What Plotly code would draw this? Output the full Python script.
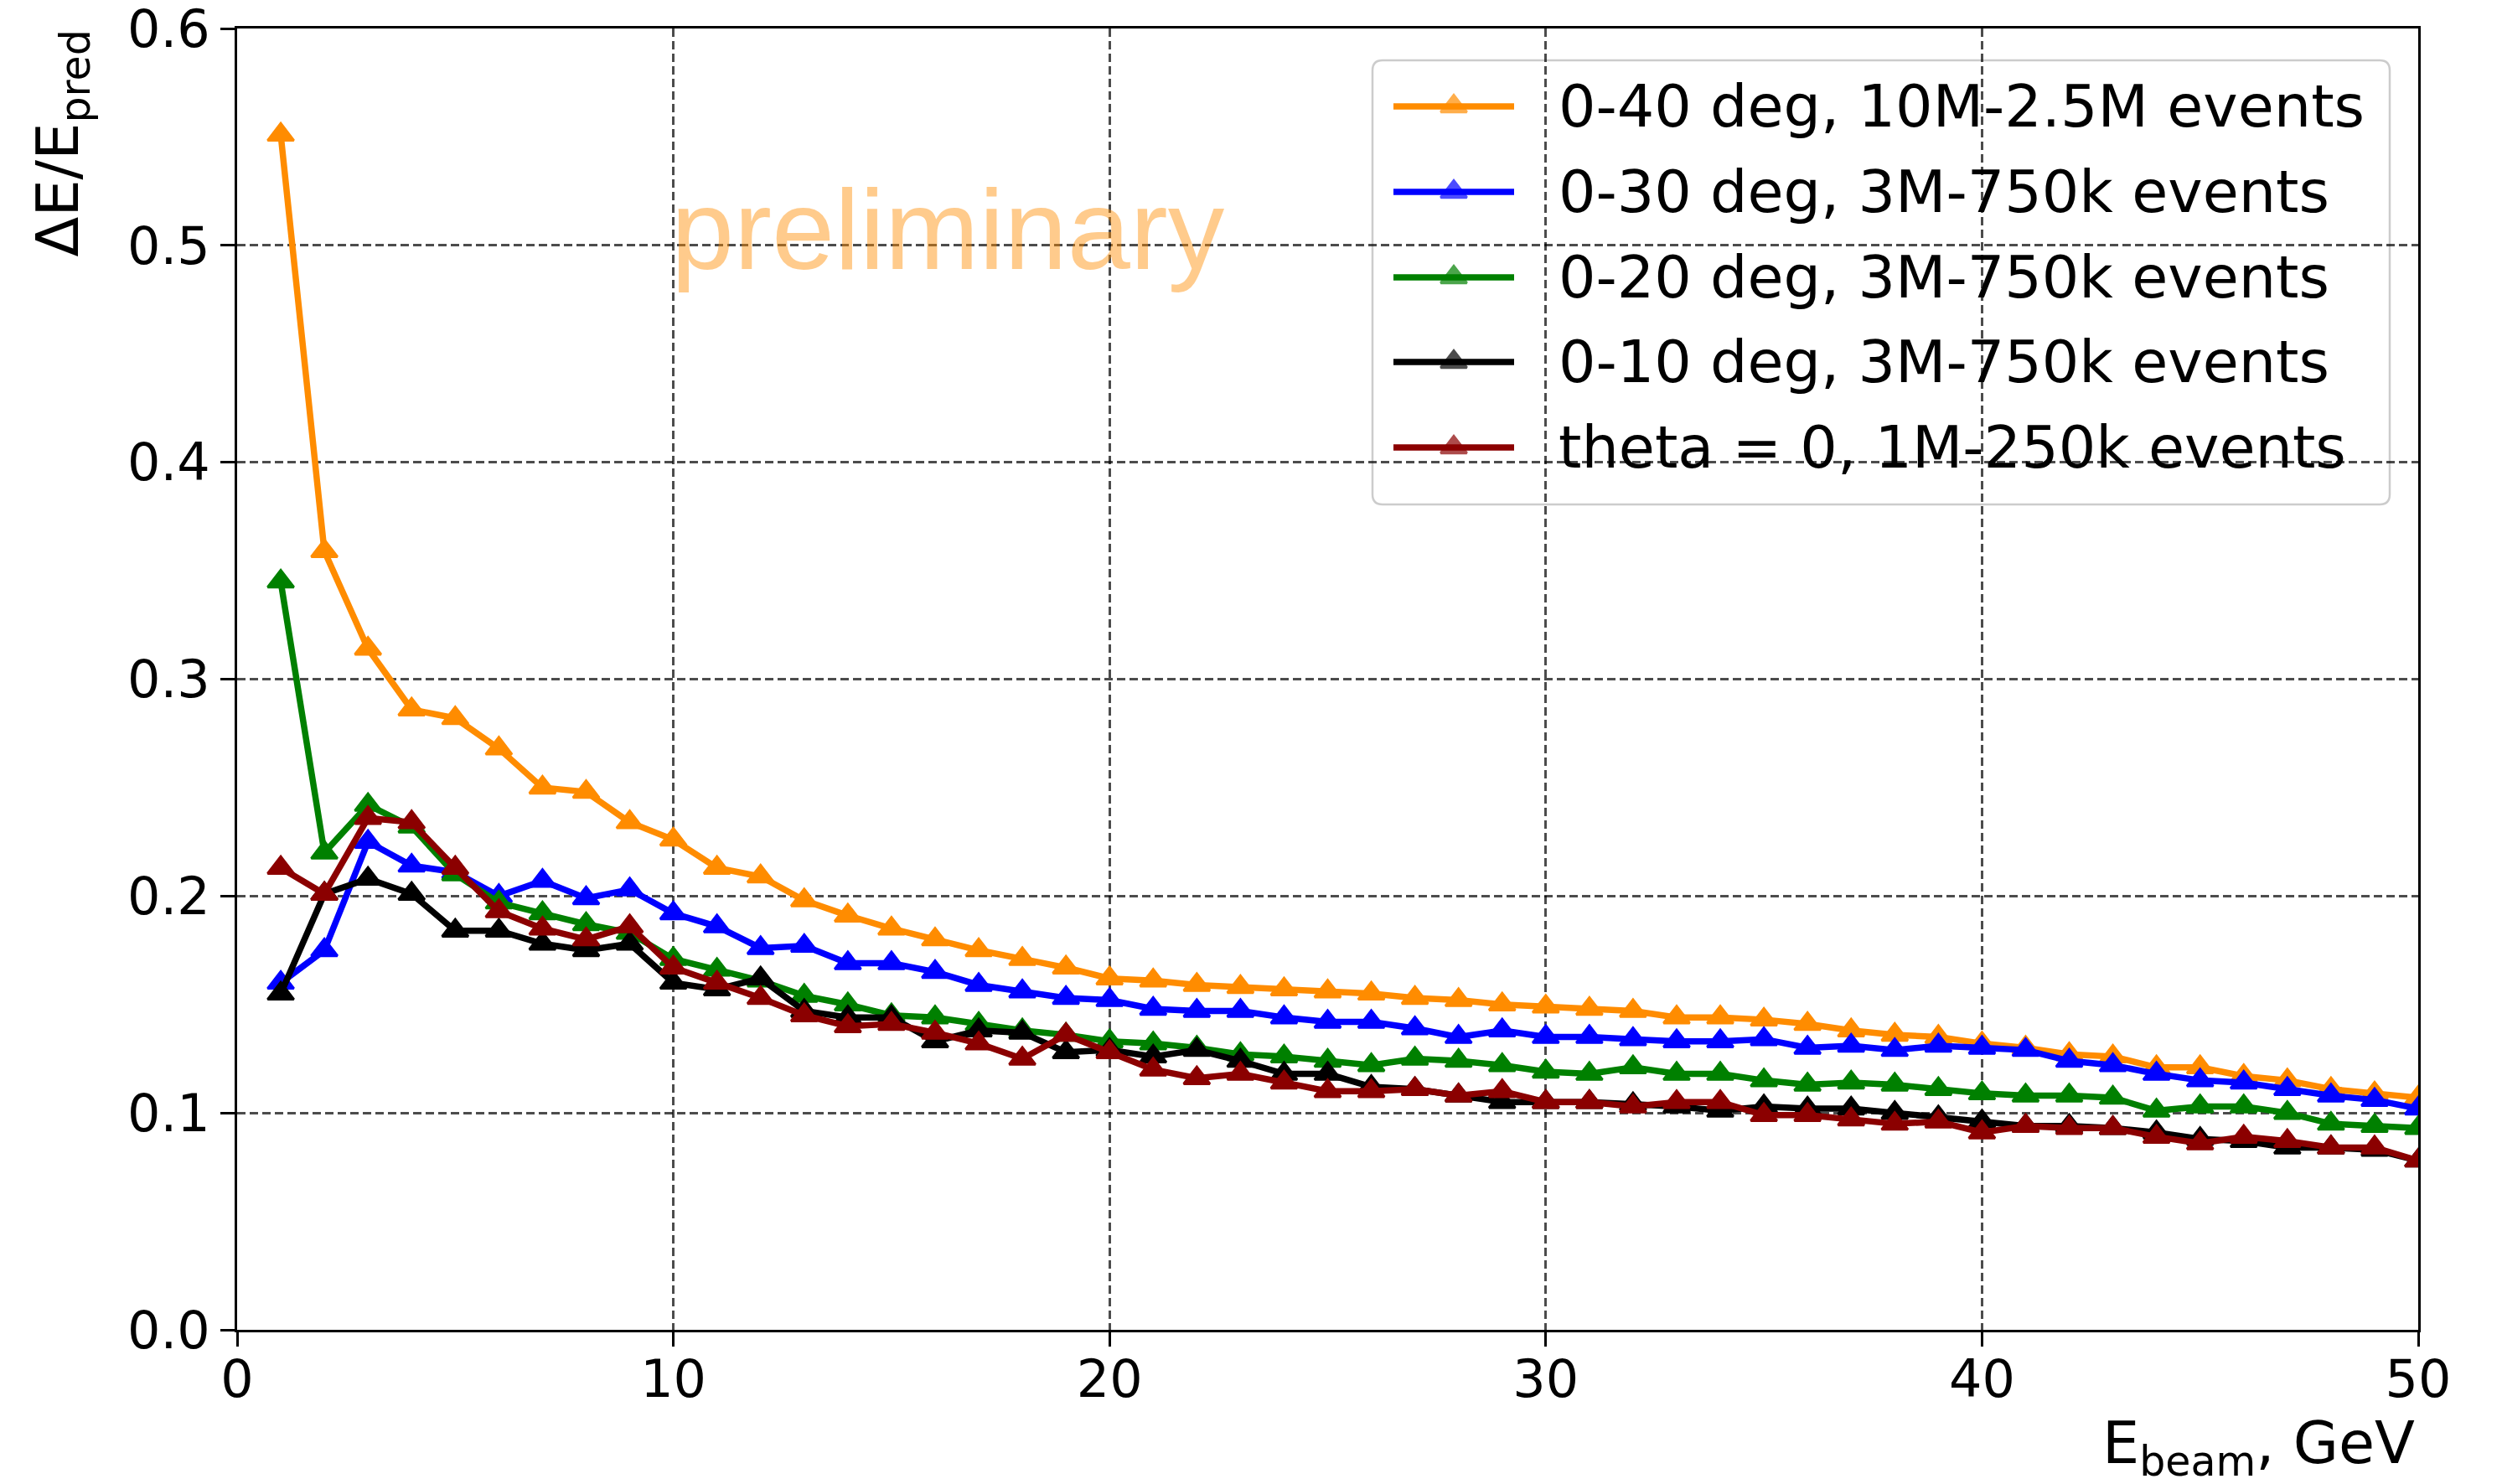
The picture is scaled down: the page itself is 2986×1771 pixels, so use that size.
import plotly.graph_objects as go

# ---------------- data ----------------
energy = list(range(1, 51))

series_names = [
    "0-40 deg, 10M-2.5M events",
    "0-30 deg, 3M-750k events",
    "0-20 deg, 3M-750k events",
    "0-10 deg, 3M-750k events",
    "theta = 0, 1M-250k events",
]
series_colors = ["#FF8C00", "#0000FF", "#008000", "#000000", "#8B0000"]

res_0_40 = [0.551, 0.359, 0.314, 0.286, 0.282, 0.268, 0.250, 0.248, 0.234, 0.226,
            0.213, 0.209, 0.198, 0.191, 0.185, 0.180, 0.175, 0.171, 0.167, 0.162,
            0.161, 0.159, 0.158, 0.157, 0.156, 0.155, 0.153, 0.152, 0.150, 0.149,
            0.148, 0.147, 0.144, 0.144, 0.143, 0.141, 0.138, 0.136, 0.135, 0.132,
            0.130, 0.127, 0.126, 0.121, 0.121, 0.117, 0.115, 0.111, 0.109, 0.107]

res_0_30 = [0.160, 0.175, 0.225, 0.214, 0.211, 0.200, 0.207, 0.199, 0.203, 0.192,
            0.186, 0.176, 0.177, 0.169, 0.169, 0.165, 0.159, 0.156, 0.153, 0.152,
            0.148, 0.147, 0.147, 0.144, 0.142, 0.142, 0.139, 0.135, 0.138, 0.135,
            0.135, 0.134, 0.133, 0.133, 0.134, 0.130, 0.131, 0.129, 0.131, 0.130,
            0.129, 0.124, 0.122, 0.118, 0.115, 0.114, 0.111, 0.108, 0.106, 0.102]

res_0_20 = [0.345, 0.220, 0.242, 0.232, 0.210, 0.197, 0.192, 0.187, 0.183, 0.171,
            0.166, 0.161, 0.154, 0.150, 0.145, 0.144, 0.141, 0.138, 0.136, 0.133,
            0.132, 0.130, 0.127, 0.126, 0.124, 0.122, 0.125, 0.124, 0.122, 0.119,
            0.118, 0.121, 0.118, 0.118, 0.115, 0.113, 0.114, 0.113, 0.111, 0.109,
            0.108, 0.108, 0.107, 0.101, 0.103, 0.103, 0.100, 0.095, 0.094, 0.093]

res_0_10 = [0.155, 0.201, 0.208, 0.201, 0.184, 0.184, 0.178, 0.175, 0.178, 0.160,
            0.157, 0.162, 0.147, 0.144, 0.144, 0.133, 0.138, 0.137, 0.128, 0.129,
            0.126, 0.129, 0.124, 0.118, 0.118, 0.112, 0.111, 0.108, 0.105, 0.105,
            0.105, 0.104, 0.103, 0.101, 0.103, 0.102, 0.102, 0.100, 0.098, 0.096,
            0.094, 0.094, 0.093, 0.091, 0.088, 0.087, 0.084, 0.084, 0.083, 0.078]

res_theta0 = [0.213, 0.201, 0.236, 0.234, 0.213, 0.193, 0.185, 0.180, 0.186, 0.167,
              0.160, 0.153, 0.145, 0.140, 0.141, 0.137, 0.132, 0.125, 0.136, 0.128,
              0.120, 0.116, 0.118, 0.114, 0.110, 0.110, 0.111, 0.108, 0.110, 0.105,
              0.105, 0.103, 0.105, 0.105, 0.099, 0.099, 0.097, 0.095, 0.096, 0.091,
              0.094, 0.093, 0.093, 0.089, 0.086, 0.089, 0.087, 0.084, 0.084, 0.078]

series_values = [res_0_40, res_0_30, res_0_20, res_0_10, res_theta0]

x_ticks = [0, 10, 20, 30, 40, 50]
y_ticks = [0.0, 0.1, 0.2, 0.3, 0.4, 0.5, 0.6]

# ---------------- figure ----------------
W, H = 2986, 1771
ML, MR, MT, MB = 283, 100, 34, 184
PW, PH = W - ML - MR, H - MT - MB

FONT = "DejaVu Sans"
TICK_SIZE = 62
LABEL_SIZE = 70
LEG_SIZE = 70
MSIZE = 27
MLINE = 3
LW = 7.5

fig = go.Figure()

for name, color, vals in zip(series_names, series_colors, series_values):
    fig.add_trace(go.Scatter(
        x=energy, y=vals, name=name, mode="lines+markers",
        line=dict(color=color, width=LW),
        marker=dict(symbol="triangle-up", size=MSIZE, color=color,
                    line=dict(color=color, width=MLINE)),
        showlegend=False,
    ))

def px_x(px):
    return (px - ML) / PW

def px_y(py):
    return (H - MB - py) / PH

# ---- custom legend (matplotlib style) ----
bx0, bx1 = px_x(1638), px_x(2852)
by1, by0 = px_y(72), px_y(602)
rx, ry = 12 / PW, 12 / PH
path = (f"M{bx0+rx},{by1} L{bx1-rx},{by1} Q{bx1},{by1} {bx1},{by1-ry} "
        f"L{bx1},{by0+ry} Q{bx1},{by0} {bx1-rx},{by0} "
        f"L{bx0+rx},{by0} Q{bx0},{by0} {bx0},{by0+ry} "
        f"L{bx0},{by1-ry} Q{bx0},{by1} {bx0+rx},{by1} Z")

shapes = [dict(type="path", xref="paper", yref="paper", path=path,
               fillcolor="rgba(255,255,255,0.8)",
               line=dict(color="rgba(204,204,204,1)", width=2.5), layer="between")]

row_px = [127, 229, 331, 432, 534]
lx0, lxm, lx1 = px_x(1663), px_x(1735), px_x(1807)
annotations = []
for name, color, rpx in zip(series_names, series_colors, row_px):
    ry_ = px_y(rpx)
    fig.add_trace(go.Scatter(
        x=[lx0, lxm, lx1], y=[ry_, ry_, ry_], xaxis="x2", yaxis="y2",
        mode="lines+markers", showlegend=False, hoverinfo="skip",
        line=dict(color=color, width=LW),
        marker=dict(symbol="triangle-up", size=[0, MSIZE, 0], color=color,
                    line=dict(color=color, width=[0, MLINE, 0])),
    ))
    annotations.append(dict(
        x=px_x(1858), y=ry_, xref="paper", yref="paper", text=name,
        showarrow=False, xanchor="left", yanchor="middle",
        font=dict(family=FONT, size=LEG_SIZE, color="black")))

# axis titles
annotations.append(dict(
    text="ΔE/E<sub>pred</sub>", textangle=-90, xref="paper", yref="paper",
    x=0, y=1, xanchor="center", yanchor="top", xshift=-210, yshift=0,
    showarrow=False, font=dict(family=FONT, size=LABEL_SIZE, color="black")))
annotations.append(dict(
    text="E<sub>beam</sub>, GeV", xref="paper", yref="paper",
    x=1, y=0, xanchor="right", yanchor="top", xshift=-2, yshift=-92,
    showarrow=False, font=dict(family=FONT, size=LABEL_SIZE, color="black")))

# watermark
annotations.append(dict(
    text="preliminary", xref="x", yref="y", x=16.29, y=0.507,
    xanchor="center", yanchor="middle", showarrow=False,
    font=dict(family="Liberation Sans", size=135, color="rgba(255,140,0,0.45)")))

axis_common = dict(
    showline=True, linecolor="black", linewidth=3, mirror=True,
    ticks="outside", ticklen=17, tickwidth=3, tickcolor="black",
    showgrid=True, gridcolor="rgba(0,0,0,0.7)", gridwidth=2.5, griddash="10px,5px",
    zeroline=False, ticklabeloverflow="allow", automargin=False,
    tickfont=dict(family=FONT, size=TICK_SIZE, color="black"),
)

fig.update_layout(
    width=W, height=H,
    margin=dict(l=ML, r=MR, t=MT, b=MB, pad=0, autoexpand=False),
    paper_bgcolor="white", plot_bgcolor="white",
    font=dict(family=FONT, color="black"),
    xaxis=dict(range=[0, 50], tickvals=x_ticks, ticktext=[str(v) for v in x_ticks],
               ticklabelstandoff=-14, **axis_common),
    yaxis=dict(range=[0, 0.6], tickvals=y_ticks, ticktext=[f"{v:.1f}" for v in y_ticks],
               **axis_common),
    xaxis2=dict(overlaying="x", range=[0, 1], visible=False, fixedrange=True),
    yaxis2=dict(overlaying="y", range=[0, 1], visible=False, fixedrange=True),
    shapes=shapes,
    annotations=annotations,
    showlegend=False,
)

fig.write_html("out.html")
